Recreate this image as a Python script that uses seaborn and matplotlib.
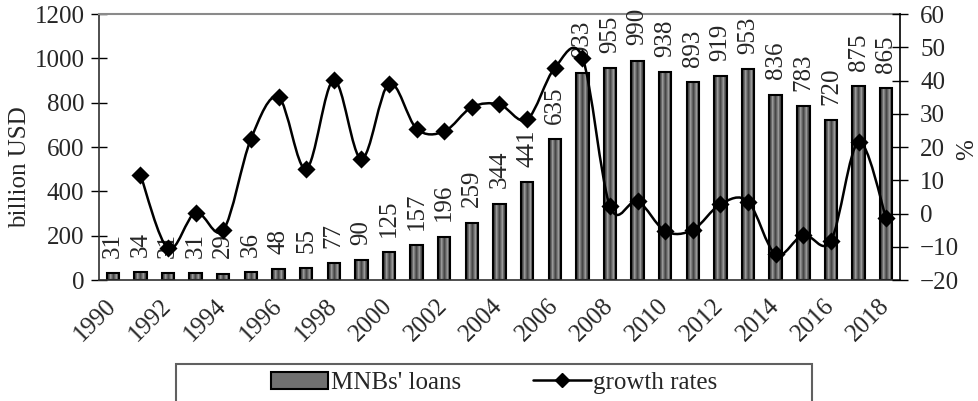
import numpy as np
import pandas as pd
import matplotlib
matplotlib.use("Agg")
import matplotlib.pyplot as plt
import seaborn as sns
from matplotlib.path import Path
from matplotlib.patches import PathPatch, Rectangle, Patch
from matplotlib.lines import Line2D

# data
years = list(range(1990, 2019))
loans = [31, 34, 31, 31, 29, 36, 48, 55, 77, 90, 125, 157, 196, 259, 344,
         441, 635, 933, 955, 990, 938, 893, 919, 953, 836, 783, 720, 875, 865]
growth_years = list(range(1991, 2019))
growth = [11.7, -10.5, 0.3, -5.0, 22.4, 35.0, 13.4, 40.1, 16.4, 39.1,
          25.5, 24.7, 32.0, 32.8, 28.3, 43.8, 46.9, 2.2, 3.7, -5.3,
          -4.9, 2.8, 3.6, -12.3, -6.4, -8.2, 21.5, -1.4]
left_ticks = [0, 200, 400, 600, 800, 1000, 1200]
right_ticks = [-20, -10, 0, 10, 20, 30, 40, 50, 60]

sns.set_style("white")
plt.rcParams['font.family'] = ['Liberation Serif', 'DejaVu Serif']
plt.rcParams['font.size'] = 18

fig = plt.figure(figsize=(9.79, 4.01), dpi=100)
ax = fig.add_axes([0.1011, 0.3017, 0.8182, 0.6633])

df = pd.DataFrame({'year': years, 'loans': loans})
sns.barplot(data=df, x='year', y='loans', ax=ax, color='#606060',
            width=0.45, edgecolor='black', linewidth=1.5, saturation=1)

ax.set_xlim(-0.5, len(years) - 0.5)
ax.set_ylim(0, 1200)

# gradient fill inside each bar (clipped to the bar shape)
grad = np.array([[0.22, 0.35, 0.62, 0.42, 0.28, 0.42, 0.62, 0.35, 0.22]])
for p in list(ax.patches):
    bb = p.get_bbox()
    im = ax.imshow(grad, extent=[bb.x0, bb.x1, bb.y0, bb.y1], aspect='auto',
                   cmap='gray', vmin=0, vmax=1, interpolation='bilinear',
                   zorder=p.get_zorder() + 0.1)
    im.set_clip_path(p)
    p.set_facecolor('none')
    p.set_zorder(p.get_zorder() + 0.2)
ax.set_xlim(-0.5, len(years) - 0.5)
ax.set_ylim(0, 1200)

ax.bar_label(ax.containers[0], labels=[str(v) for v in loans], rotation=90,
             padding=11, fontsize=18)

# x axis: year labels every 2nd, tick marks between categories
ax.set_xticks(range(0, len(years), 2))
ax.set_xticklabels([str(y) for y in years[::2]], rotation=45, ha='right',
                   va='center', rotation_mode='anchor')
ax.set_xticks(np.arange(-0.5, len(years), 1), minor=True)
ax.tick_params(axis='x', which='major', length=0, pad=16, labelsize=18)
ax.tick_params(axis='x', which='minor', direction='inout', length=11,
               width=1, color='black')
ax.set_yticks(left_ticks)
ax.tick_params(axis='y', direction='inout', length=11, width=1,
               color='black', pad=5, labelsize=18, left=True)
ax.set_xlabel('')
ax.set_ylabel('billion USD', fontsize=18)
ax.yaxis.set_label_coords(-0.085, 0.425)

for s in ['left', 'bottom']:
    ax.spines[s].set_color('#303030')
    ax.spines[s].set_linewidth(1.2)
ax.spines['top'].set_color('#8a8a8a')
ax.spines['top'].set_linewidth(1.5)
ax.spines['right'].set_visible(False)

# growth rates on the right axis, smoothed line
ax2 = ax.twinx()
gx = np.array([years.index(y) for y in growth_years], dtype=float)
gy = np.array(growth)
pts = np.column_stack([gx, gy])
verts = [pts[0]]
codes = [Path.MOVETO]
n = len(pts)
for i in range(n - 1):
    p0 = pts[i - 1] if i > 0 else pts[i]
    p1, p2 = pts[i], pts[i + 1]
    p3 = pts[i + 2] if i + 2 < n else pts[i + 1]
    verts += [p1 + (p2 - p0) / 6, p2 - (p3 - p1) / 6, p2]
    codes += [Path.CURVE4] * 3
ax2.add_patch(PathPatch(Path(verts, codes), facecolor='none',
                        edgecolor='black', lw=1.8, zorder=4))
sns.scatterplot(x=gx, y=gy, ax=ax2, marker='D', color='black', s=85,
                linewidth=0, zorder=5)
ax2.set_xlim(-0.5, len(years) - 0.5)
ax2.set_ylim(-20, 60)
ax2.set_yticks(right_ticks)
ax2.tick_params(axis='y', direction='inout', length=11, width=1,
                color='black', pad=9, labelsize=18, right=True)
ax2.set_ylabel('%', fontsize=18)
ax2.yaxis.set_label_coords(1.070, 0.49)
for s in ['left', 'top', 'bottom']:
    ax2.spines[s].set_visible(False)
ax2.spines['right'].set_color('black')
ax2.spines['right'].set_linewidth(1.2)

# legend box, partly cut by the figure edge
fig.patches.append(Rectangle((176 / 979, -0.05), (812 - 176) / 979, 0.1423,
                             transform=fig.transFigure, facecolor='none',
                             edgecolor='#606060', lw=1.5))
handles = [Patch(facecolor='#707070', edgecolor='black', lw=1.5),
           Line2D([], [], color='black', marker='D', markersize=7, lw=1.8)]
fig.legend(handles=handles, labels=["MNBs' loans", 'growth rates'],
           loc='center', bbox_to_anchor=(0.5046, 0.045), ncol=2,
           frameon=False, handlelength=2.3, handletextpad=0.1,
           columnspacing=2.9, fontsize=18)

fig.savefig('out.png', dpi=100)
